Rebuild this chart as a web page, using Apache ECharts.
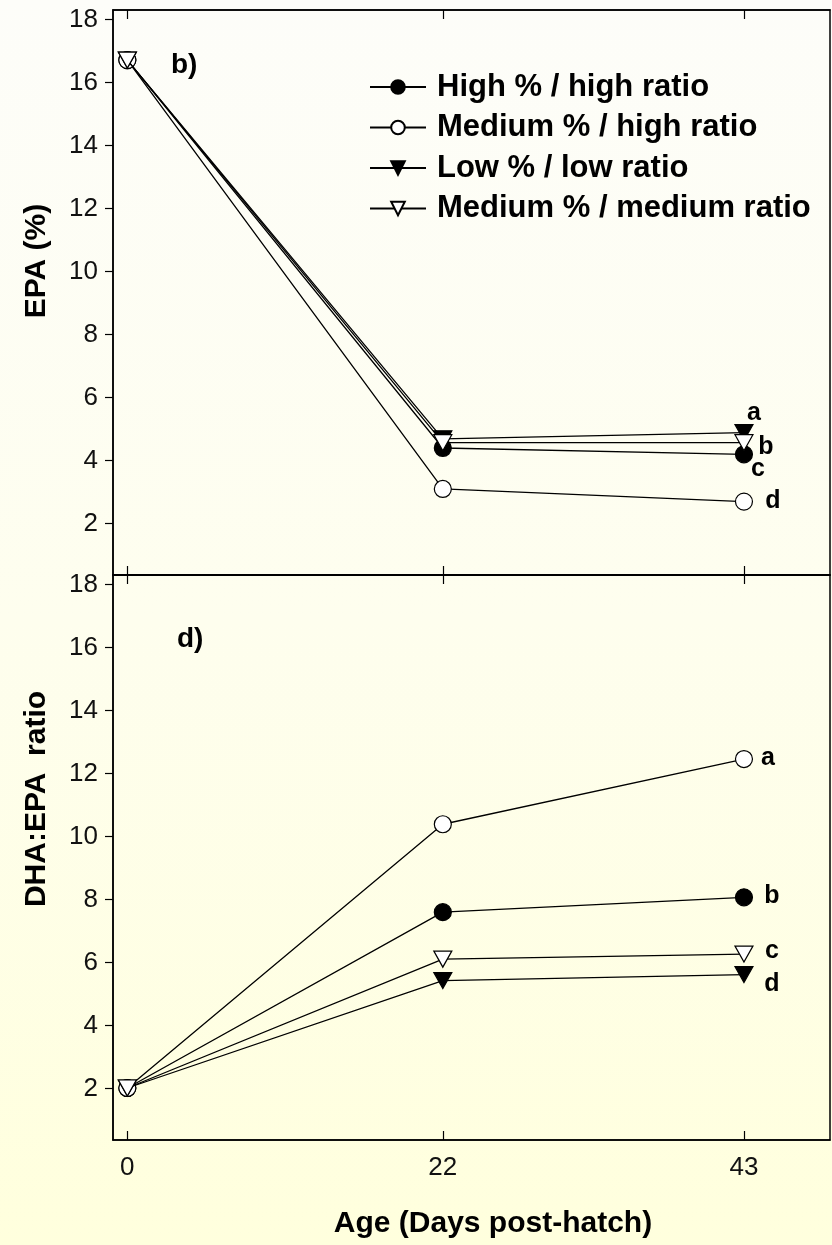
<!DOCTYPE html>
<html>
<head>
<meta charset="utf-8">
<script src="https://cdn.jsdelivr.net/npm/echarts@6/dist/echarts.min.js"></script>
<style>
  html, body { margin: 0; padding: 0; }
  #chart { width: 832px; height: 1245px; background: linear-gradient(to bottom, #fdfdf9 0%, #fefeee 50%, #ffffdd 100%); }
</style>
</head>
<body>
<div id="chart"></div>
<script>
// ---------- data ----------
const days = [0, 22, 43];
const seriesNames = ['High % / high ratio', 'Medium % / high ratio', 'Low % / low ratio', 'Medium % / medium ratio'];
const yTicks = [2, 4, 6, 8, 10, 12, 14, 16, 18];
const axisTitles = { epa: 'EPA (%)', ratio: 'DHA:EPA  ratio', age: 'Age (Days post-hatch)' };

// EPA (%) panel b)
const epaHighHigh = [16.71, 4.40, 4.20];
const epaMedHigh  = [16.71, 3.10, 2.70];
const epaLowLow   = [16.71, 4.69, 4.89];
const epaMedMed   = [16.71, 4.57, 4.57];
const epaLetters  = ['c', 'd', 'a', 'b'];

// DHA:EPA ratio panel d)
const ratioHighHigh = [2.02, 7.60, 8.07];
const ratioMedHigh  = [2.02, 10.39, 12.46];
const ratioLowLow   = [2.02, 5.43, 5.62];
const ratioMedMed   = [2.02, 6.11, 6.27];
const ratioLetters  = ['b', 'a', 'd', 'c'];

// ---------- styling ----------
const FONT = "'Liberation Sans', Arial, sans-serif";
const downTri = 'path://M0,0 L20,0 L10,17 Z';
const symbols = ['circle', 'circle', downTri, downTri];
const fills = ['#000', '#fff', '#000', '#fff'];
const symSizes = [17, 17, [18, 16], [18, 16]];
const epaOffsets = [[14, 15], [29, 0], [10, -19], [22, 4]];
const ratioOffsets = [[28, -1], [24, -1], [28, 10], [28, -3]];

const chart = echarts.init(document.getElementById('chart'), null, { renderer: 'canvas' });

function pairs(vals) { return days.map((d, i) => [d, vals[i]]); }

function makeSeries(idx, vals, gridIdx, letters, offsets) {
  return {
    name: seriesNames[idx],
    type: 'line',
    xAxisIndex: gridIdx === 0 ? 0 : 2,
    yAxisIndex: gridIdx,
    data: pairs(vals),
    symbol: symbols[idx],
    symbolSize: symSizes[idx],
    showAllSymbol: true,
    lineStyle: { color: '#000', width: 1.3 },
    itemStyle: { color: fills[idx], borderColor: '#000', borderWidth: 1.2 },
    emphasis: { disabled: true },
    animation: false,
    z: 2 + idx,
    label: {
      show: true,
      position: 'inside',
      offset: offsets[idx],
      formatter: p => (p.dataIndex === days.length - 1 ? letters[idx] : ''),
      color: '#000',
      fontFamily: FONT,
      fontWeight: 'bold',
      fontSize: 25
    }
  };
}

const yMin = 0.37, yMax = 18.3;
function yAxisCfg(gridIdx) {
  return {
    type: 'value',
    gridIndex: gridIdx,
    min: yMin,
    max: yMax,
    position: 'left',
    axisLine: { show: true, onZero: false, lineStyle: { color: '#000', width: 1.5 } },
    axisTick: { show: true, inside: false, length: 8, customValues: yTicks, lineStyle: { color: '#000', width: 1.2 } },
    axisLabel: { show: true, margin: 15, customValues: yTicks, fontFamily: FONT, fontSize: 26, color: '#111' },
    splitLine: { show: false }
  };
}
function xAxisCfg(gridIdx, pos, labels) {
  return {
    type: 'value',
    gridIndex: gridIdx,
    position: pos,
    min: -1,
    max: 49,
    axisLine: { show: true, onZero: false, lineStyle: { color: '#000', width: 1.5 } },
    axisTick: { show: true, inside: true, length: 9, customValues: days, lineStyle: { color: '#000', width: 1.2 } },
    axisLabel: { show: labels, margin: 15, customValues: days, fontFamily: FONT, fontSize: 26, color: '#111' },
    splitLine: { show: false }
  };
}

const titleFont = "bold 30px 'Liberation Sans', Arial, sans-serif";
const option = {
  animation: false,
  textStyle: { fontFamily: FONT },
  grid: [
    { left: 113, top: 10, width: 717, height: 565, show: true, borderColor: '#000', borderWidth: 1.5, backgroundColor: 'transparent' },
    { left: 113, top: 575, width: 717, height: 565, show: true, borderColor: '#000', borderWidth: 1.5, backgroundColor: 'transparent' }
  ],
  xAxis: [
    xAxisCfg(0, 'bottom', false),
    xAxisCfg(0, 'top', false),
    xAxisCfg(1, 'bottom', true),
    xAxisCfg(1, 'top', false)
  ],
  yAxis: [
    yAxisCfg(0),
    yAxisCfg(1)
  ],
  legend: {
    data: seriesNames,
    orient: 'vertical',
    left: 364,
    top: 66,
    itemWidth: 56,
    itemHeight: 17,
    itemGap: 8.5,
    selectedMode: false,
    textStyle: { fontFamily: FONT, fontWeight: 'bold', fontSize: 31, color: '#000', lineHeight: 32, padding: [0, 0, 0, 6] }
  },
  graphic: [
    { type: 'text', left: 171, top: 51, style: { text: 'b)', font: "bold 28px 'Liberation Sans', Arial, sans-serif", fill: '#000' } },
    { type: 'text', left: 177, top: 625, style: { text: 'd)', font: "bold 28px 'Liberation Sans', Arial, sans-serif", fill: '#000' } },
    { type: 'text', x: 37, y: 261, rotation: Math.PI / 2, style: { text: axisTitles.epa, font: titleFont, fill: '#000', align: 'center', verticalAlign: 'middle' } },
    { type: 'text', x: 37, y: 799, rotation: Math.PI / 2, style: { text: axisTitles.ratio, font: titleFont, fill: '#000', align: 'center', verticalAlign: 'middle' } },
    { type: 'text', x: 493, y: 1224, style: { text: axisTitles.age, font: titleFont, fill: '#000', align: 'center', verticalAlign: 'middle' } }
  ],
  series: [
    makeSeries(0, epaHighHigh, 0, epaLetters, epaOffsets),
    makeSeries(1, epaMedHigh, 0, epaLetters, epaOffsets),
    makeSeries(2, epaLowLow, 0, epaLetters, epaOffsets),
    makeSeries(3, epaMedMed, 0, epaLetters, epaOffsets),
    makeSeries(0, ratioHighHigh, 1, ratioLetters, ratioOffsets),
    makeSeries(1, ratioMedHigh, 1, ratioLetters, ratioOffsets),
    makeSeries(2, ratioLowLow, 1, ratioLetters, ratioOffsets),
    makeSeries(3, ratioMedMed, 1, ratioLetters, ratioOffsets)
  ]
};
chart.setOption(option);
</script>
</body>
</html>
